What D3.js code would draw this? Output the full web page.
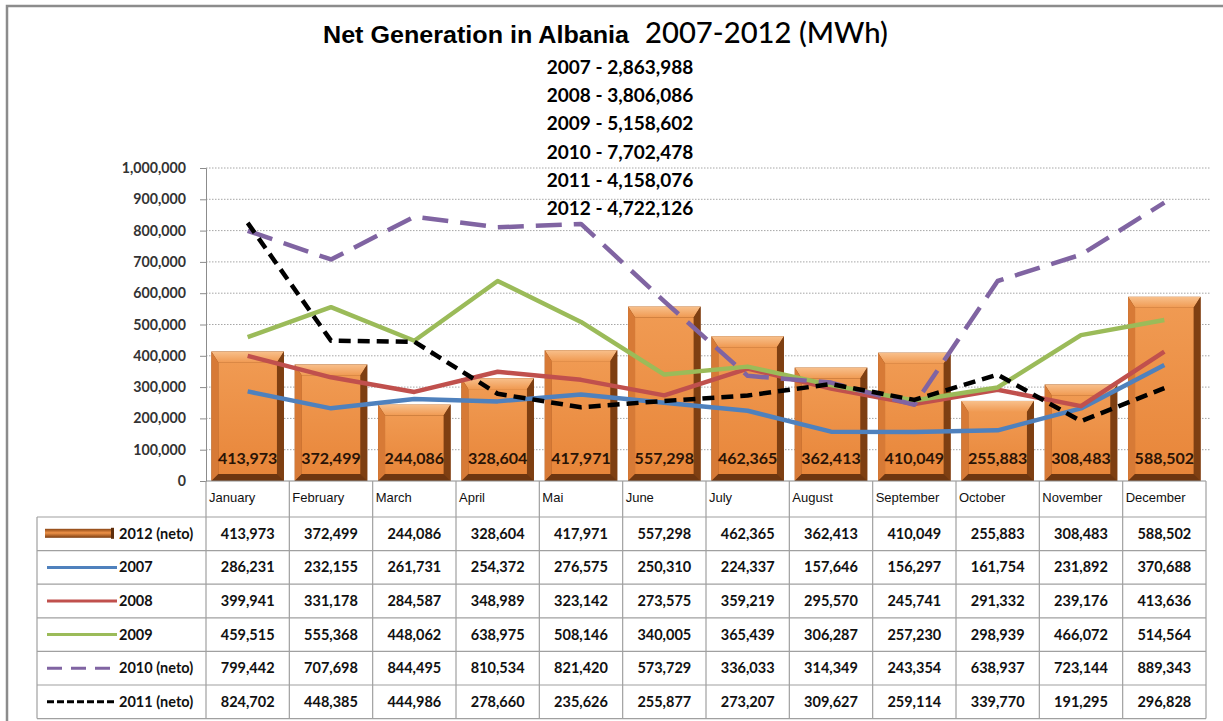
<!DOCTYPE html>
<html lang="en">
<head>
<meta charset="UTF-8">
<title>Net Generation in Albania 2007-2012</title>
<script src="https://cdnjs.cloudflare.com/ajax/libs/d3/7.8.5/d3.min.js"></script>
<style>
  body { margin: 0; background: #fff; }
  svg { display: block; }
  .cal { font-family: Lato, "Open Sans", sans-serif; font-weight: 700; }
</style>
</head>
<body>
<div id="chart"></div>
<script>
// ---- data ----
const months = ["January", "February", "March", "April", "Mai", "June", "July",
                "August", "September", "October", "November", "December"];
const gen2012 = [413973, 372499, 244086, 328604, 417971, 557298, 462365, 362413, 410049, 255883, 308483, 588502];
const gen2007 = [286231, 232155, 261731, 254372, 276575, 250310, 224337, 157646, 156297, 161754, 231892, 370688];
const gen2008 = [399941, 331178, 284587, 348989, 323142, 273575, 359219, 295570, 245741, 291332, 239176, 413636];
const gen2009 = [459515, 555368, 448062, 638975, 508146, 340005, 365439, 306287, 257230, 298939, 466072, 514564];
const gen2010 = [799442, 707698, 844495, 810534, 821420, 573729, 336033, 314349, 243354, 638937, 723144, 889343];
const gen2011 = [824702, 448385, 444986, 278660, 235626, 255877, 273207, 309627, 259114, 339770, 191295, 296828];
const totalYears = ["2007", "2008", "2009", "2010", "2011", "2012"];
const totals = ["2,863,988", "3,806,086", "5,158,602", "7,702,478", "4,158,076", "4,722,126"];
const yTicks = [0, 100000, 200000, 300000, 400000, 500000, 600000, 700000, 800000, 900000, 1000000];

// line series, in drawing order
const lineSeries = [
  {name: "2007", values: gen2007, color: "#4F81BD", dash: null},
  {name: "2008", values: gen2008, color: "#C0504D", dash: null},
  {name: "2009", values: gen2009, color: "#9BBB59", dash: null},
  {name: "2010 (neto)", values: gen2010, color: "#8064A2", dash: "26,12"},
  {name: "2011 (neto)", values: gen2011, color: "#000000", dash: "12,7"}
];

const W = 1223, H = 721;
const plot = {left: 206, right: 1206, top: 168, bottom: 481};
const table = {left: 37, top: 517, rowH: 33.6};

const svg = d3.select("#chart").append("svg")
  .attr("width", W).attr("height", H);

// frame
svg.append("path")
  .attr("d", `M7,${H} V6 H${W}`)
  .attr("fill", "none").attr("stroke", "#8c8c8c").attr("stroke-width", 2.5);

const x = d3.scaleBand().domain(months).range([plot.left, plot.right]).paddingInner(0.13).paddingOuter(0.065);
const xc = d3.scaleBand().domain(months).range([plot.left, plot.right]);
const y = d3.scaleLinear().domain([0, 1000000]).range([plot.bottom, plot.top]);

// gridlines
svg.append("g").selectAll("line").data(yTicks.slice(1)).join("line")
  .attr("x1", plot.left).attr("x2", plot.right + 4)
  .attr("y1", d => y(d)).attr("y2", d => y(d))
  .attr("stroke", "#a6a6a6").attr("stroke-dasharray", "1.5,1.5");

// y axis
const yAxis = svg.append("g")
  .attr("transform", `translate(${plot.left},0)`)
  .call(d3.axisLeft(y).tickValues(yTicks).tickSize(6).tickPadding(14)
        .tickFormat(d3.format(",")));
yAxis.select(".domain").attr("stroke", "#8c8c8c");
yAxis.selectAll(".tick line").attr("stroke", "#8c8c8c");
yAxis.selectAll(".tick text").attr("class", "cal").attr("font-size", 14.2).attr("fill", "#333");

// bars with a bevel look
const defs = svg.append("defs");
const faceGrad = defs.append("linearGradient").attr("id", "face").attr("x1", 0).attr("x2", 0).attr("y1", 0).attr("y2", 1);
faceGrad.append("stop").attr("offset", "0%").attr("stop-color", "#F09A52");
faceGrad.append("stop").attr("offset", "100%").attr("stop-color", "#E8863A");
const topGrad = defs.append("linearGradient").attr("id", "topbev").attr("x1", 0).attr("x2", 0).attr("y1", 0).attr("y2", 1);
topGrad.append("stop").attr("offset", "0%").attr("stop-color", "#F8C08C");
topGrad.append("stop").attr("offset", "100%").attr("stop-color", "#F09A52");
const keyGrad = defs.append("linearGradient").attr("id", "keygrad").attr("x1", 0).attr("x2", 0).attr("y1", 0).attr("y2", 1);
keyGrad.append("stop").attr("offset", "0%").attr("stop-color", "#8a4514");
keyGrad.append("stop").attr("offset", "45%").attr("stop-color", "#EE9248");
keyGrad.append("stop").attr("offset", "100%").attr("stop-color", "#7a3c10");

const b = 7;
svg.append("g").selectAll("g").data(months).join("g")
  .each(function(m, i) {
    const g = d3.select(this);
    const x0 = x(m), w = x.bandwidth(), y0 = y(gen2012[i]), h = plot.bottom - y0;
    g.append("rect").attr("x", x0).attr("y", y0).attr("width", w).attr("height", h).attr("fill", "#8a4514");
    g.append("polygon").attr("fill", "url(#topbev)")
      .attr("points", `${x0},${y0} ${x0 + w},${y0} ${x0 + w - b},${y0 + b + 4} ${x0 + b},${y0 + b + 4}`);
    g.append("polygon").attr("fill", "#D77A36")
      .attr("points", `${x0},${y0} ${x0 + b},${y0 + b + 4} ${x0 + b},${y0 + h - b} ${x0},${y0 + h}`);
    g.append("polygon").attr("fill", "#7e3f12")
      .attr("points", `${x0 + w},${y0} ${x0 + w - b},${y0 + b + 4} ${x0 + w - b},${y0 + h - b} ${x0 + w},${y0 + h}`);
    g.append("polygon").attr("fill", "#6e3610")
      .attr("points", `${x0},${y0 + h} ${x0 + b},${y0 + h - b} ${x0 + w - b},${y0 + h - b} ${x0 + w},${y0 + h}`);
    g.append("rect").attr("x", x0 + b).attr("y", y0 + b + 4).attr("width", w - 2 * b).attr("height", h - 2 * b - 4)
      .attr("fill", "url(#face)");
  });

// lines
const line = d3.line().x((d, i) => xc(months[i]) + xc.bandwidth() / 2).y(d => y(d));
svg.append("g").selectAll("path").data(lineSeries).join("path")
  .attr("d", d => line(d.values))
  .attr("fill", "none")
  .attr("stroke", d => d.color)
  .attr("stroke-width", 4.5)
  .attr("stroke-linejoin", "round")
  .attr("stroke-dasharray", d => d.dash);

// bar value labels
svg.append("g").selectAll("text").data(months).join("text")
  .attr("class", "cal")
  .attr("x", m => xc(m) + xc.bandwidth() / 2)
  .attr("y", 464)
  .attr("text-anchor", "middle")
  .attr("font-size", 16)
  .attr("fill", "#2a1406")
  .text((m, i) => d3.format(",")(gen2012[i]));

// x axis line
svg.append("line").attr("x1", plot.left).attr("x2", plot.right)
  .attr("y1", plot.bottom).attr("y2", plot.bottom).attr("stroke", "#8c8c8c");

// data table
const rows = [{name: "2012 (neto)", values: gen2012, bar: true}].concat(lineSeries);
const tableBottom = table.top + rows.length * table.rowH;
const grid = svg.append("g").attr("stroke", "#a0a0a0").attr("stroke-width", 1.2);
grid.selectAll("line.h").data(d3.range(rows.length + 1)).join("line")
  .attr("x1", table.left).attr("x2", plot.right)
  .attr("y1", i => table.top + i * table.rowH).attr("y2", i => table.top + i * table.rowH);
grid.selectAll("line.v").data(months.concat(["end"])).join("line")
  .attr("x1", (m, i) => plot.left + i * xc.bandwidth()).attr("x2", (m, i) => plot.left + i * xc.bandwidth())
  .attr("y1", plot.bottom).attr("y2", tableBottom);
grid.append("line").attr("x1", table.left).attr("x2", table.left).attr("y1", table.top).attr("y2", tableBottom);

// month labels (category axis)
svg.append("g").selectAll("text").data(months).join("text")
  .attr("x", m => xc(m) + 3)
  .attr("y", 502)
  .attr("font-family", "'Liberation Sans', Arial, sans-serif")
  .attr("font-size", 13)
  .attr("fill", "#111")
  .text(m => m);

const rowG = svg.append("g").selectAll("g").data(rows).join("g")
  .attr("transform", (d, i) => `translate(0,${table.top + i * table.rowH + table.rowH / 2})`);
rowG.each(function(d) {
  const g = d3.select(this);
  if (d.bar) {
    g.append("rect").attr("x", 45).attr("y", -5).attr("width", 69).attr("height", 9).attr("fill", "url(#keygrad)");
    g.append("rect").attr("x", 111).attr("y", -6).attr("width", 3).attr("height", 11).attr("fill", "#5e2e0c");
  } else {
    g.append("line").attr("x1", 47).attr("x2", 117).attr("y1", 0).attr("y2", 0)
      .attr("stroke", d.color).attr("stroke-width", 3).attr("stroke-dasharray", d.dash ? (d.dash === "12,7" ? "7,3" : "15,9") : null);
  }
});
rowG.append("text").attr("class", "cal")
  .attr("x", 119).attr("y", 5).attr("font-size", 14.5).attr("fill", "#111")
  .text(d => d.name);
rowG.selectAll("text.v").data(d => d.values).join("text")
  .attr("class", "cal")
  .attr("x", (v, i) => xc(months[i]) + xc.bandwidth() / 2)
  .attr("y", 5)
  .attr("text-anchor", "middle")
  .attr("font-size", 14.5)
  .attr("fill", "#111")
  .text(v => d3.format(",")(v));

// title
svg.append("text").attr("x", 323).attr("y", 43)
  .attr("font-family", "'Liberation Sans Narrow', 'Liberation Sans', Arial, sans-serif")
  .attr("font-weight", 700).attr("font-size", 23).attr("textLength", 306).attr("lengthAdjust", "spacingAndGlyphs")
  .text("Net Generation in Albania");
svg.append("text").attr("x", 645).attr("y", 43)
  .attr("font-family", "Lato, 'Open Sans', sans-serif")
  .attr("font-weight", 500)
  .attr("font-size", 28).attr("textLength", 243).attr("lengthAdjust", "spacingAndGlyphs")
  .attr("fill", "#000")
  .text("2007-2012 (MWh)");

// yearly totals
svg.append("g").selectAll("text").data(totalYears).join("text")
  .attr("class", "cal")
  .attr("x", 620)
  .attr("y", (d, i) => 74 + i * 28.2)
  .attr("text-anchor", "middle")
  .attr("font-size", 19)
  .attr("fill", "#000")
  .text((d, i) => `${d} -  ${totals[i]}`);
</script>
</body>
</html>
